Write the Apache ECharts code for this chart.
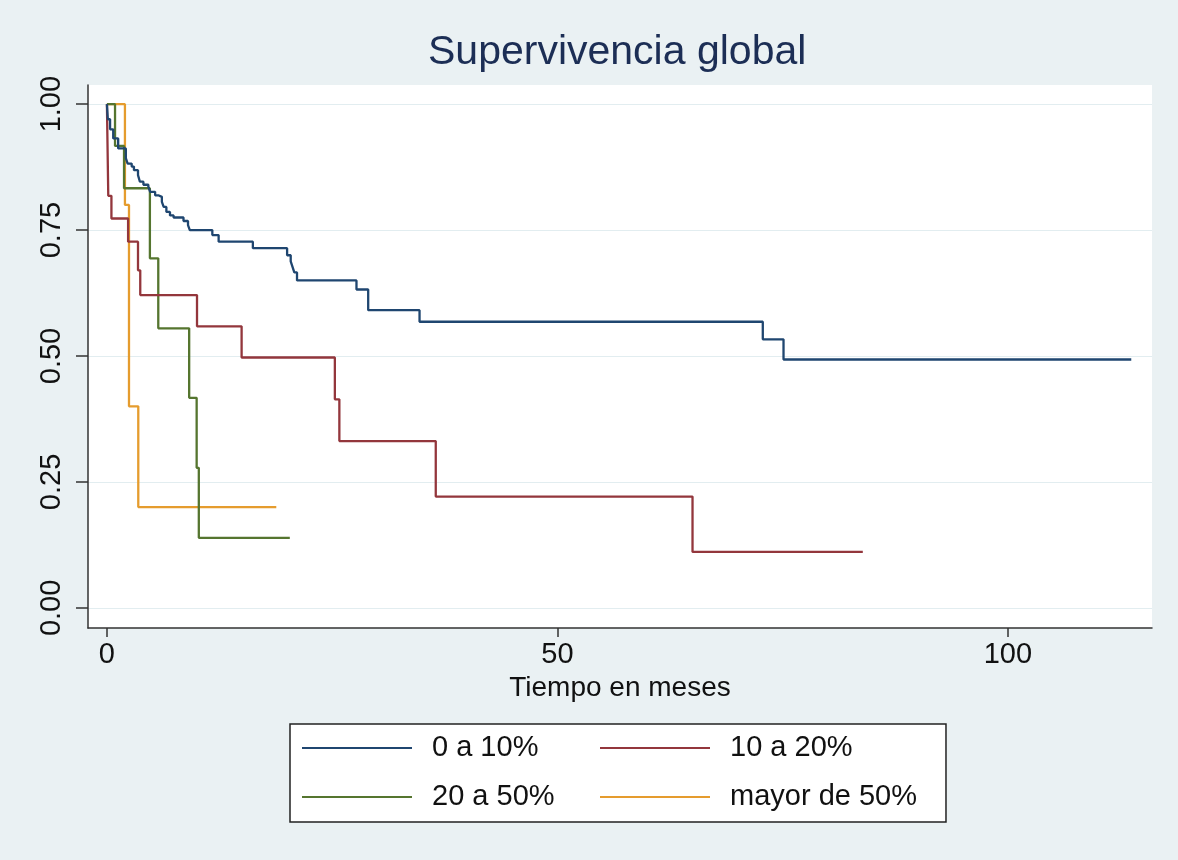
<!DOCTYPE html>
<html>
<head>
<meta charset="utf-8">
<script src="https://cdn.jsdelivr.net/npm/echarts@6/dist/echarts.min.js"></script>
<style>
html,body{margin:0;padding:0;background:#eaf1f3;}
#chart{width:1178px;height:860px;}
</style>
</head>
<body>
<div id="chart"></div>
<script>
// ---- Data (Kaplan-Meier steps: time in months, survival after event) ----
const titleText = 'Supervivencia global';
const xAxisTitle = 'Tiempo en meses';
const groupNames = ['0 a 10%', '10 a 20%', '20 a 50%', 'mayor de 50%'];
const xTickValues = [0, 50, 100];
const yTickValues = [0, 0.25, 0.5, 0.75, 1];

const timesG1 = [0, 0.1, 0.35, 0.7, 1.25, 2.1, 2.3, 2.75, 3.0, 3.45, 3.66, 4.05, 4.6, 4.8, 5.35, 5.7, 6.1, 6.3, 6.6, 7.0, 7.4, 8.5, 9.0, 9.2, 11.7, 12.4, 16.2, 20.0, 20.4, 20.6, 20.8, 21.1, 27.7, 29.0, 34.7, 72.8, 75.1, 113.7];
const survG1  = [1.0, 0.97, 0.95, 0.932, 0.912, 0.893, 0.882, 0.876, 0.869, 0.859, 0.846, 0.840, 0.836, 0.826, 0.819, 0.816, 0.806, 0.796, 0.786, 0.779, 0.775, 0.768, 0.760, 0.750, 0.740, 0.727, 0.714, 0.700, 0.688, 0.677, 0.666, 0.650, 0.632, 0.591, 0.568, 0.533, 0.493, 0.493];

const timesG2 = [0, 0.15, 0.5, 2.35, 3.45, 3.7, 10.0, 14.95, 25.3, 25.8, 36.5, 65.0, 83.9];
const survG2  = [1.0, 0.818, 0.773, 0.727, 0.670, 0.621, 0.559, 0.497, 0.414, 0.331, 0.221, 0.111, 0.111];

const timesG3 = [0, 0.9, 1.9, 4.77, 5.7, 9.13, 9.96, 10.2, 20.3];
const survG3  = [1.0, 0.917, 0.833, 0.694, 0.555, 0.417, 0.278, 0.139, 0.139];

const timesG4 = [0, 2.0, 2.45, 3.48, 18.8];
const survG4  = [1.0, 0.8, 0.4, 0.2, 0.2];

const groupColors = ['#1f4670', '#93363c', '#55752f', '#e59c2e'];

// ---- Build ----
function pairs(t, s) { return t.map((v, i) => [v, s[i]]); }
const allData = [pairs(timesG1, survG1), pairs(timesG2, survG2), pairs(timesG3, survG3), pairs(timesG4, survG4)];

const chart = echarts.init(document.getElementById('chart'), null, {renderer: 'canvas'});
const fontFam = '"Liberation Sans", Arial, sans-serif';

const option = {
  backgroundColor: '#eaf1f3',
  animation: false,
  title: {
    text: titleText,
    left: 423,
    top: 27,
    textStyle: {fontFamily: fontFam, fontSize: 41, fontWeight: 'normal', color: '#1c2e55'}
  },
  grid: {
    left: 88, right: 26, top: 85, bottom: 232,
    show: true, backgroundColor: '#ffffff', borderWidth: 0,
    containLabel: false, outerBoundsMode: 'none'
  },
  xAxis: {
    type: 'value', min: -2.1, max: 116,
    name: xAxisTitle, nameLocation: 'middle', nameGap: 46,
    nameTextStyle: {fontFamily: fontFam, fontSize: 28, color: '#111'},
    axisLine: {show: true, onZero: false, lineStyle: {color: '#333', width: 1.5}},
    axisTick: {show: true, customValues: xTickValues, length: 9, lineStyle: {color: '#333', width: 1.5}},
    axisLabel: {customValues: xTickValues, fontFamily: fontFam, fontSize: 29, color: '#111', margin: 12},
    splitLine: {show: false}
  },
  yAxis: {
    type: 'value', min: -0.04, max: 1.038,
    axisLine: {show: true, onZero: false, lineStyle: {color: '#333', width: 1.5}},
    axisTick: {show: true, customValues: yTickValues, length: 12, lineStyle: {color: '#333', width: 1.5}},
    axisLabel: {customValues: yTickValues, rotate: 90, fontFamily: fontFam, fontSize: 29, color: '#111', margin: 22,
      formatter: v => v.toFixed(2)},
    splitLine: {show: true, customValues: yTickValues, lineStyle: {color: '#e2edf0', width: 1.2}}
  },
  legend: {
    data: groupNames,
    left: 290, top: 724,
    width: 660,
    orient: 'horizontal',
    padding: [9, 29, 10, 12],
    itemGap: 19,
    itemWidth: 110, itemHeight: 14,
    backgroundColor: '#ffffff',
    borderColor: '#222', borderWidth: 1.5, borderRadius: 0,
    icon: 'path://M0,6 L110,6 L110,8 L0,8 Z',
    textStyle: {fontFamily: fontFam, fontSize: 29, color: '#111', width: 149, lineHeight: 30,
      padding: [0, 0, 0, 15], overflow: 'none'}
  },
  series: allData.map((d, i) => ({
    name: groupNames[i],
    type: 'line',
    step: 'end',
    symbol: 'none',
    data: d,
    color: groupColors[i],
    lineStyle: {color: groupColors[i], width: 2.3},
    itemStyle: {color: groupColors[i]},
    z: 10 - i
  }))
};
chart.setOption(option);
</script>
</body>
</html>
